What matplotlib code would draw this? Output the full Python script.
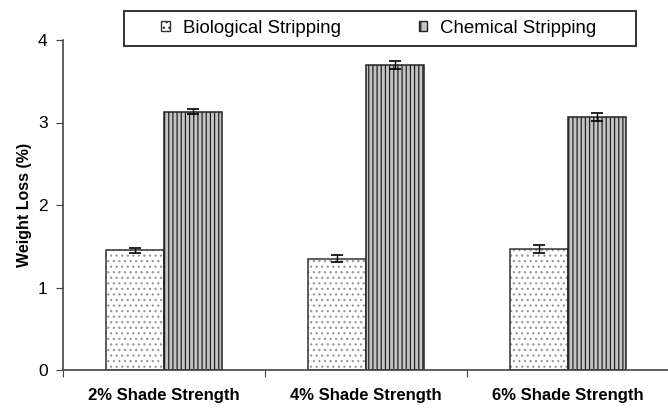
import matplotlib
matplotlib.use("Agg")
import matplotlib.pyplot as plt
from matplotlib.patches import Rectangle, Patch
import numpy as np

plt.rcParams["font.family"] = ["Liberation Sans", "DejaVu Sans"]
plt.rcParams["hatch.linewidth"] = 0.9

categories = ["2% Shade Strength", "4% Shade Strength", "6% Shade Strength"]
series = ["Biological Stripping", "Chemical Stripping"]
bio = [1.45, 1.35, 1.47]
bio_err = [0.03, 0.045, 0.05]
chem = [3.13, 3.70, 3.07]
chem_err = [0.03, 0.05, 0.05]
yticks = [0, 1, 2, 3, 4]

fig = plt.figure(figsize=(6.68, 4.12), dpi=100)
ax = fig.add_axes([63 / 668, 1 - 370 / 412, 606 / 668, 330 / 412])

x = np.arange(len(categories))
w = 0.285
ekw = dict(ecolor="black", elinewidth=1, capsize=4, capthick=1.2)

# hatch fill drawn in grey, outline drawn on top in dark
ax.bar(x - w / 2, bio, w, color="white", edgecolor="#9a9a9a", hatch="...",
       linewidth=0)
ax.bar(x - w / 2, bio, w, yerr=bio_err, fill=False, edgecolor="#333333",
       linewidth=1.1, error_kw=ekw)
ax.bar(x + w / 2, chem, w, color="#c4c4c4", edgecolor="#222222", hatch="||||",
       linewidth=0)
ax.bar(x + w / 2, chem, w, yerr=chem_err, fill=False, edgecolor="#222222",
       linewidth=1.1, error_kw=ekw)

ax.set_xlim(-0.5, 2.5)
ax.set_ylim(0, 4)
ax.set_yticks(yticks)
ax.set_yticklabels([str(v) for v in yticks], fontsize=12.5)
ax.set_xticks([-0.5, 0.5, 1.5])
ax.set_xticklabels([])
ax.set_xticks(x, minor=True)
ax.set_xticklabels(categories, minor=True, fontsize=12, fontweight="bold")
ax.tick_params(axis="x", which="major", length=5, direction="out", color="#444444")
ax.tick_params(axis="x", which="minor", length=0, pad=13)
ax.tick_params(axis="y", length=5, direction="out", color="#444444", pad=6)
ax.set_ylabel("Weight Loss (%)", fontsize=11.5, fontweight="bold", labelpad=4)

ax.spines["top"].set_visible(False)
ax.spines["right"].set_visible(False)
for s in ("left", "bottom"):
    ax.spines[s].set_color("#444444")
    ax.spines[s].set_linewidth(1.2)

# legend box
fig.patches.append(Rectangle((124 / 668, 1 - 46 / 412), 512 / 668, 35 / 412,
                             transform=fig.transFigure, fill=False,
                             edgecolor="#222222", linewidth=1.3))
handles = [
    Patch(facecolor="white", edgecolor="#333333", hatch="...", linewidth=1.0),
    Patch(facecolor="#c4c4c4", edgecolor="#222222", hatch="||", linewidth=1.0),
]
leg = fig.legend(handles, series, loc="center", ncol=2,
                 bbox_to_anchor=(379 / 668, 1 - 28.5 / 412),
                 fontsize=13.4, frameon=False, handlelength=0.45,
                 handleheight=0.45, handletextpad=0.7, borderaxespad=0,
                 columnspacing=4.2, borderpad=0)

fig.savefig("out.png", dpi=100)
